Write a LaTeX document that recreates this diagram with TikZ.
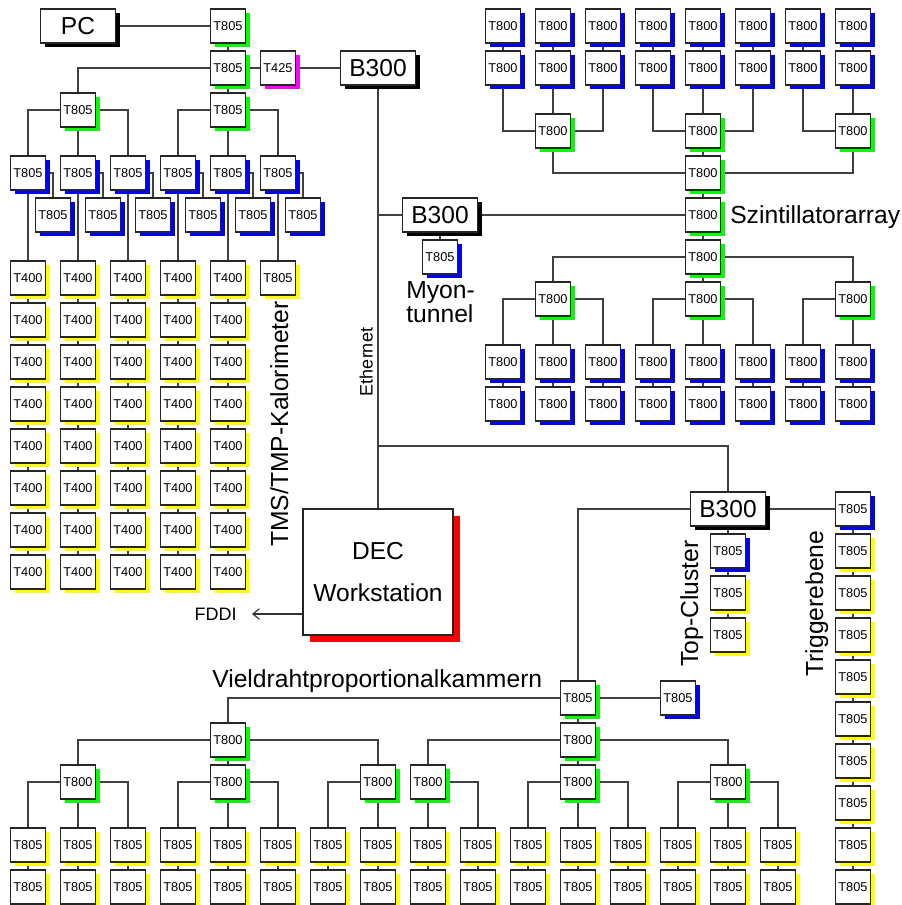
\documentclass[tikz,border=0pt]{standalone}
\usepackage{fontspec}
\setmainfont{Liberation Sans}
\usetikzlibrary{shadows,arrows.meta}
\pgfdeclarelayer{bg}
\pgfsetlayers{bg,main}
\definecolor{cg}{RGB}{0,255,0}
\definecolor{cb}{RGB}{0,0,255}
\definecolor{cy}{RGB}{255,255,0}
\definecolor{cm}{RGB}{255,0,255}
\definecolor{cr}{RGB}{255,0,0}
\begin{document}
\begin{tikzpicture}[x=0.75pt,y=-0.75pt,
  sbox/.style={draw=black!85, line width=1.2pt, fill=white, minimum width=26.25pt,
    minimum height=25.5pt, inner sep=0pt, font=\fontsize{9.6}{10}\selectfont},
  sh/.style={drop shadow={shadow xshift=3.3pt, shadow yshift=-3.3pt, fill=#1, opacity=1}},
  bbox/.style={sbox, minimum width=56.25pt, font=\fontsize{18.4}{20}\selectfont, sh=black},
  decbox/.style={draw=black!85, line width=1.2pt, fill=white, minimum width=112.5pt,
    minimum height=94.5pt, inner sep=0pt, align=center, font=\fontsize{18.4}{31.5}\selectfont,
    drop shadow={shadow xshift=5pt, shadow yshift=-5pt, fill=cr, opacity=1}},
  conn/.style={draw=black!75, line width=0.8pt},
  lbl/.style={font=\fontsize{18.5}{20}\selectfont, inner sep=0pt},
  mid/.style={font=\fontsize{13.5}{15}\selectfont, inner sep=0pt}
]
\useasboundingbox (0,0) rectangle (901,905);

% ---------------- left tree (TMS/TMP-Kalorimeter) ----------------
\node[bbox] (pc) at (78,26) {PC};
\node[sbox,sh=cg] (a0) at (228,26) {T805};
\node[sbox,sh=cg] (a1) at (228,68) {T805};
\node[sbox,sh=cm] (t425) at (278,68) {T425};
\node[bbox] (b1) at (378,68) {B300};
\node[sbox,sh=cg] (a2l) at (78,110) {T805};
\node[sbox,sh=cg] (a2r) at (228,110) {T805};
\foreach \i/\x in {1/28,2/78,3/128,4/178,5/228,6/278}{
  \node[sbox,sh=cb] (c\i) at (\x,173) {T805};
  \node[sbox,sh=cb] (d\i) at (\x+25,215) {T805};
}
\foreach \i/\x in {1/28,2/78,3/128,4/178,5/228}{
  \foreach \j in {1,...,8}{
    \node[sbox,sh=cy] (k\i-\j) at (\x,{236+42*\j}) {T400};
  }
}
\node[sbox,sh=cy] (k6-1) at (278,278) {T805};

% ---------------- Szintillatorarray ----------------
\foreach \i in {1,...,8}{
  \node[sbox,sh=cb] (s0-\i) at ({453+50*\i},26) {T800};
  \node[sbox,sh=cb] (s1-\i) at ({453+50*\i},68) {T800};
  \node[sbox,sh=cb] (m0-\i) at ({453+50*\i},362) {T800};
  \node[sbox,sh=cb] (m1-\i) at ({453+50*\i},404) {T800};
}
\node[sbox,sh=cg] (g1) at (553,131) {T800};
\node[sbox,sh=cg] (g2) at (703,131) {T800};
\node[sbox,sh=cg] (g3) at (853,131) {T800};
\node[sbox,sh=cg] (h1) at (703,173) {T800};
\node[sbox,sh=cg] (h2) at (703,215) {T800};
\node[sbox,sh=cg] (h3) at (703,257) {T800};
\node[sbox,sh=cg] (l1) at (553,299) {T800};
\node[sbox,sh=cg] (l2) at (703,299) {T800};
\node[sbox,sh=cg] (l3) at (853,299) {T800};

% ---------------- Myontunnel ----------------
\node[bbox] (b2) at (440,215) {B300};
\node[sbox,sh=cb] (my) at (440,257) {T805};

% ---------------- DEC ----------------
\node[decbox] (dec) at (378,572) {DEC\\Workstation};
\node[mid, anchor=base east] (fddi) at (237,620) {FDDI};
\coordinate (fddiend) at (252,614);

% ---------------- B300 lower, Top-Cluster, Triggerebene ----------------
\node[bbox] (b3) at (728,509) {B300};
\node[sbox,sh=cb] (tc1) at (728,551) {T805};
\node[sbox,sh=cy] (tc2) at (728,593) {T805};
\node[sbox,sh=cy] (tc3) at (728,635) {T805};
\node[sbox,sh=cb] (tr1) at (853,509) {T805};
\foreach \j in {2,...,10}{
  \node[sbox,sh=cy] (tr\j) at (853,{467+42*\j}) {T805};
}

% ---------------- Vieldrahtproportionalkammern ----------------
\node[sbox,sh=cg] (v0) at (578,698) {T805};
\node[sbox,sh=cb] (vb) at (678,698) {T805};
\node[sbox,sh=cg] (w1) at (228,740) {T800};
\node[sbox,sh=cg] (w2) at (578,740) {T800};
\foreach \i/\x in {1/78,2/228,3/378,4/428,5/578,6/728}{
  \node[sbox,sh=cg] (x\i) at (\x,782) {T800};
}
\foreach \i in {1,...,16}{
  \node[sbox,sh=cy] (y\i) at ({-22+50*\i},845) {T805};
  \node[sbox,sh=cy] (z\i) at ({-22+50*\i},887) {T805};
}

% ---------------- labels ----------------
\node[lbl, anchor=base west] (szl) at (730,224) {Szintillatorarray};
\node[lbl, anchor=base west] (myl1) at (406,298) {Myon-};
\node[lbl, anchor=base west] (myl2) at (406,322) {tunnel};
\node[lbl, anchor=base west] (vpl) at (212,687) {Vieldrahtproportionalkammern};
\node[mid, rotate=90, anchor=base] (eth) at (372.5,362) {Ethernet};
\node[lbl, rotate=90, anchor=base] (tmsl) at (288,424) {TMS/TMP-Kalorimeter};
\node[lbl, rotate=90, anchor=base] (tcl) at (698,603.5) {Top-Cluster};
\node[lbl, rotate=90, anchor=base] (trl) at (823,603.5) {Triggerebene};

% ---------------- connectors ----------------
\begin{pgfonlayer}{bg}
\draw[conn] (pc) -- (a0);
\draw[conn] (a0) -- (a1);
\draw[conn] (a1) -- (t425);
\draw[conn] (t425) -- (b1);
\draw[conn] (a1.west) -| (a2l.north);
\draw[conn] (a1) -- (a2r);
\draw[conn] (a2l.west) -| (c1.north);
\draw[conn] (a2l) -- (c2);
\draw[conn] (a2l.east) -| (c3.north);
\draw[conn] (a2r.west) -| (c4.north);
\draw[conn] (a2r) -- (c5);
\draw[conn] (a2r.east) -| (c6.north);
\foreach \i in {1,...,6}{
  \draw[conn] (c\i.east) -| (d\i.north);
  \draw[conn] (c\i) -- (k\i-1);
}
\foreach \i in {1,...,5}{
  \foreach \j [evaluate=\j as \jj using int(\j+1)] in {1,...,7}{
    \draw[conn] (k\i-\j) -- (k\i-\jj);
  }
}
% Szintillator
\foreach \i in {1,...,8}{
  \draw[conn] (s0-\i) -- (s1-\i);
  \draw[conn] (m0-\i) -- (m1-\i);
}
\draw[conn] (s1-1.south) |- (g1.west);
\draw[conn] (s1-2) -- (g1);
\draw[conn] (s1-3.south) |- (g1.east);
\draw[conn] (s1-4.south) |- (g2.west);
\draw[conn] (s1-5) -- (g2);
\draw[conn] (s1-6.south) |- (g2.east);
\draw[conn] (s1-7.south) |- (g3.west);
\draw[conn] (s1-8) -- (g3);
\draw[conn] (g2) -- (h1);
\draw[conn] (g1.south) |- (h1.west);
\draw[conn] (g3.south) |- (h1.east);
\draw[conn] (h1) -- (h2);
\draw[conn] (h2) -- (h3);
\draw[conn] (h3.west) -| (l1.north);
\draw[conn] (h3) -- (l2);
\draw[conn] (h3.east) -| (l3.north);
\draw[conn] (l1.west) -| (m0-1.north);
\draw[conn] (l1) -- (m0-2);
\draw[conn] (l1.east) -| (m0-3.north);
\draw[conn] (l2.west) -| (m0-4.north);
\draw[conn] (l2) -- (m0-5);
\draw[conn] (l2.east) -| (m0-6.north);
\draw[conn] (l3.west) -| (m0-7.north);
\draw[conn] (l3) -- (m0-8);
% Ethernet
\draw[conn] (b1.south) -- (dec.north);
\draw[conn] (b1.south |- b2.west) -- (b2.west);
\draw[conn] (b2) -- (h2);
\draw[conn] (b2) -- (my);
\coordinate (ej) at (378,446);
\draw[conn] (ej) -| (b3.north);
\draw[draw=black!80, line width=0.8pt, -{Straight Barb[length=5pt,width=8pt]}] (fddiend -| dec.west) -- (fddiend);
% lower B300
\draw[conn] (b3.west) -| (v0.north);
\draw[conn] (b3) -- (tr1);
\draw[conn] (b3) -- (tc1);
\draw[conn] (tc1) -- (tc2);
\draw[conn] (tc2) -- (tc3);
\foreach \j [evaluate=\j as \jj using int(\j+1)] in {1,...,9}{
  \draw[conn] (tr\j) -- (tr\jj);
}
% Vieldraht
\draw[conn] (v0) -- (vb);
\draw[conn] (v0) -- (w2);
\draw[conn] (v0.west) -| (w1.north);
\draw[conn] (w1.west) -| (x1.north);
\draw[conn] (w1) -- (x2);
\draw[conn] (w1.east) -| (x3.north);
\draw[conn] (w2.west) -| (x4.north);
\draw[conn] (w2) -- (x5);
\draw[conn] (w2.east) -| (x6.north);
\draw[conn] (x1.west) -| (y1.north);
\draw[conn] (x1) -- (y2);
\draw[conn] (x1.east) -| (y3.north);
\draw[conn] (x2.west) -| (y4.north);
\draw[conn] (x2) -- (y5);
\draw[conn] (x2.east) -| (y6.north);
\draw[conn] (x3.west) -| (y7.north);
\draw[conn] (x3) -- (y8);
\draw[conn] (x4) -- (y9);
\draw[conn] (x4.east) -| (y10.north);
\draw[conn] (x5.west) -| (y11.north);
\draw[conn] (x5) -- (y12);
\draw[conn] (x5.east) -| (y13.north);
\draw[conn] (x6.west) -| (y14.north);
\draw[conn] (x6) -- (y15);
\draw[conn] (x6.east) -| (y16.north);
\foreach \i in {1,...,16}{
  \draw[conn] (y\i) -- (z\i);
}
\end{pgfonlayer}
\end{tikzpicture}
\end{document}
